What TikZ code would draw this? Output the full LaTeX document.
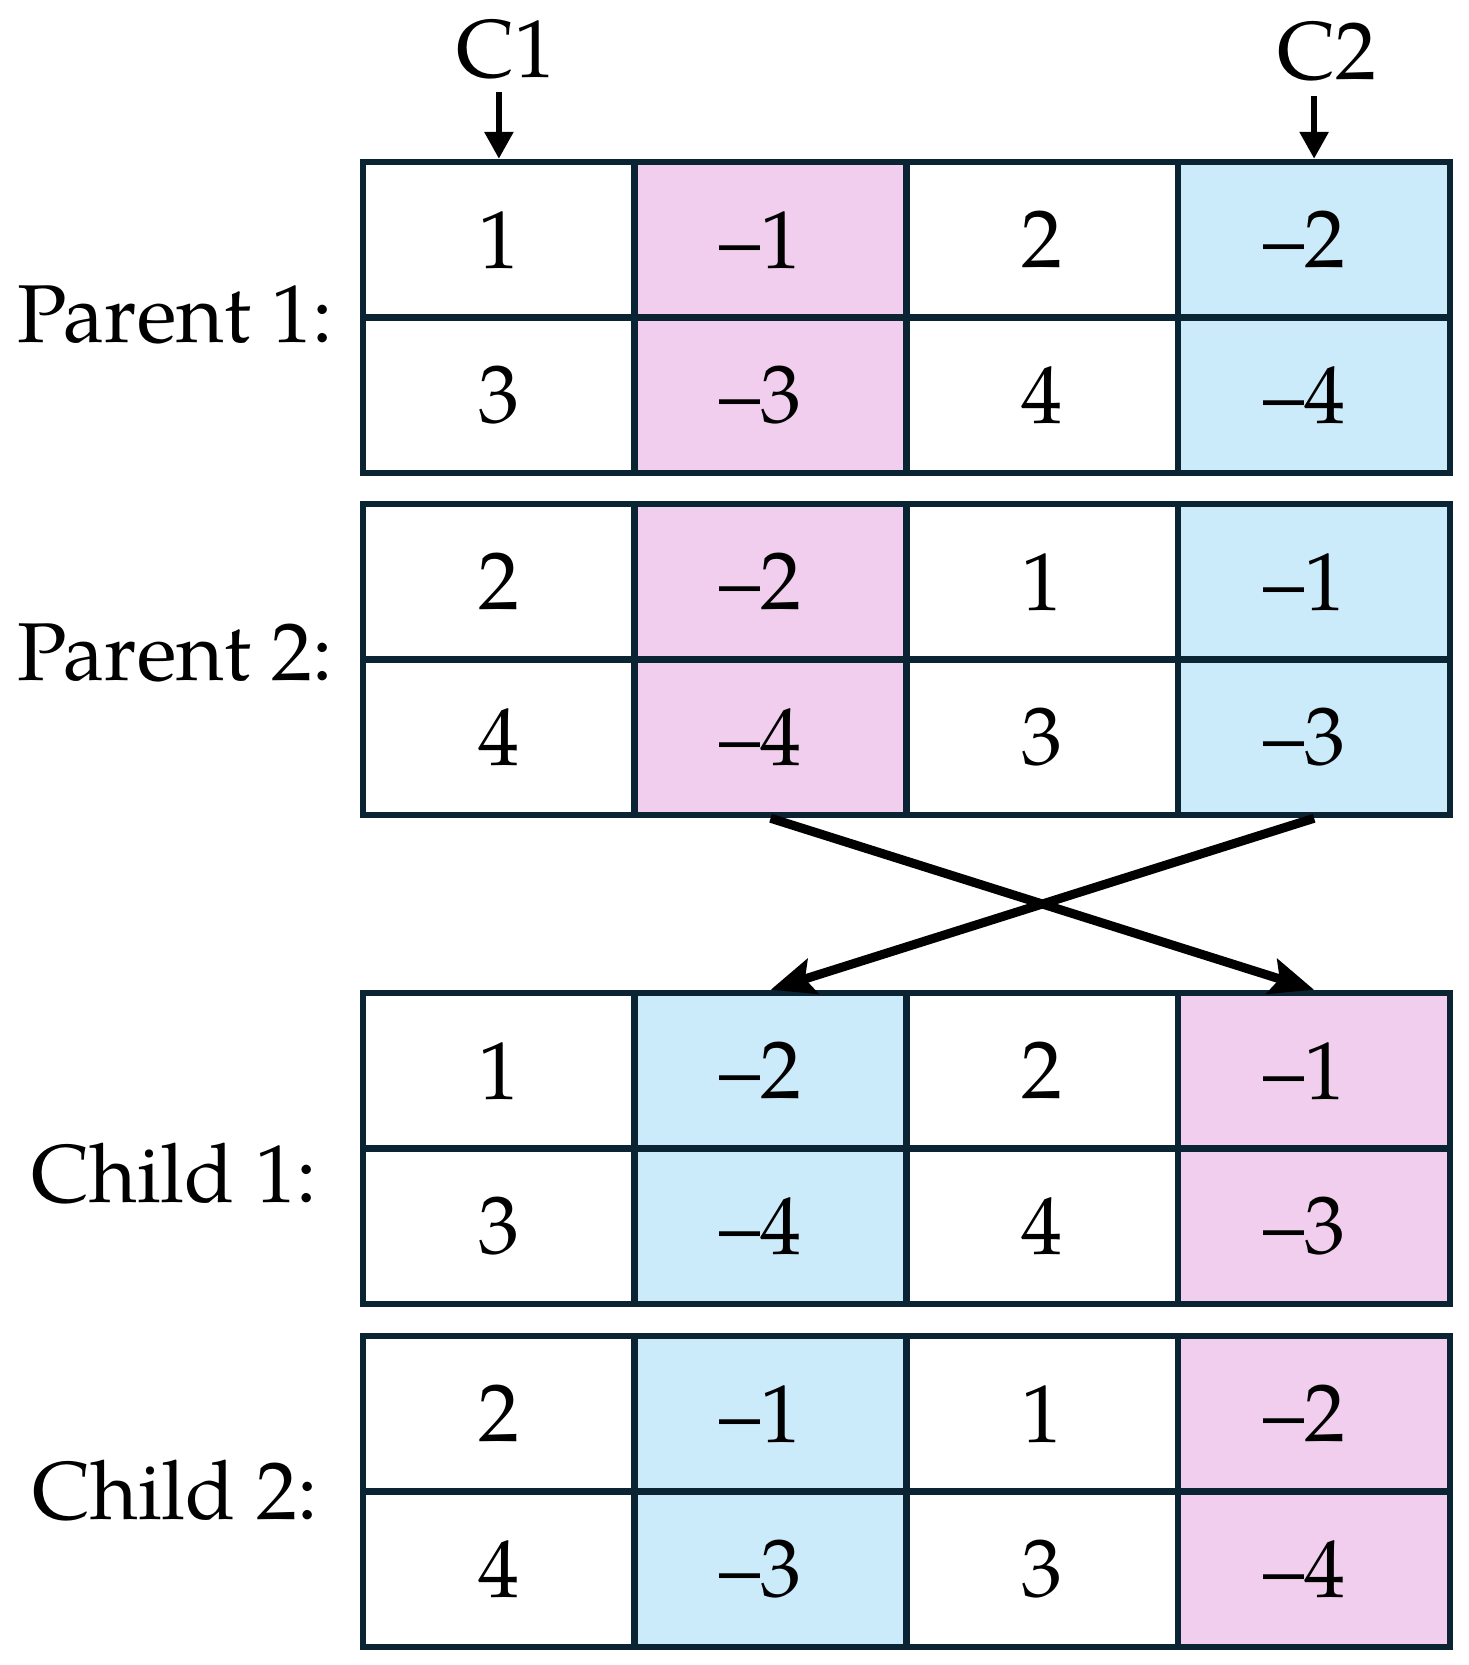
\documentclass[tikz,border=0pt]{standalone}
\usepackage{fontspec}
\setmainfont{TeX Gyre Pagella}
\usetikzlibrary{arrows.meta}
\definecolor{pinkc}{HTML}{F1CEEE}
\definecolor{bluec}{HTML}{CBEBFA}
\definecolor{border}{HTML}{0B2434}
\newcommand\gtrow[8]{%
  \node[cell] (#1-1) at (498.9,#2) {#5};
  \node[cell,fill=#3] (#1-2) at (770.6,#2) {\negv{#6}};
  \node[cell] (#1-3) at (1042.4,#2) {#7};
  \node[cell,fill=#4] (#1-4) at (1314.1,#2) {\negv{#8}};}
\newcommand\negv[1]{\textendash#1\hspace*{10pt}}
\begin{document}
\begin{tikzpicture}[x=0.5pt,y=-0.5pt,
  cell/.style={draw=border,line width=3.25pt,minimum width=135.875pt,minimum height=77.75pt,inner sep=0pt,font=\fontsize{41}{49}\selectfont},
  lbl/.style={anchor=base west,inner sep=0pt,font=\fontsize{41}{49}\selectfont},
  sarrow/.style={line width=3pt,-{Triangle[length=13.5pt,width=14pt]}},
  xarrow/.style={line width=4.5pt,-{Stealth[length=22pt,width=18pt,inset=4pt]}}]
\useasboundingbox (0,0) rectangle (1468,1665);
% Parent 1
\gtrow{p1a}{239.75}{pinkc}{bluec}{1}{1}{2}{2}
\gtrow{p1b}{395.25}{pinkc}{bluec}{3}{3}{4}{4}
% Parent 2
\gtrow{p2a}{581.75}{pinkc}{bluec}{2}{2}{1}{1}
\gtrow{p2b}{737.25}{pinkc}{bluec}{4}{4}{3}{3}
% Child 1
\gtrow{c1a}{1070.75}{bluec}{pinkc}{1}{2}{2}{1}
\gtrow{c1b}{1226.25}{bluec}{pinkc}{3}{4}{4}{3}
% Child 2
\gtrow{c2a}{1413.75}{bluec}{pinkc}{2}{1}{1}{2}
\gtrow{c2b}{1569.25}{bluec}{pinkc}{4}{3}{3}{4}
% labels
\node[lbl] (lp1) at (17,342) {Parent 1:};
\node[lbl] (lp2) at (17,680) {Parent 2:};
\node[lbl] (lc1) at (31,1202) {Child 1:};
\node[lbl] (lc2) at (32,1519) {Child 2:};
\node[lbl,anchor=base] (cut1) at (506,77) {C1};
\node[lbl,anchor=base] (cut2) at (1327,79) {C2};
% cut arrows
\draw[sarrow,shorten <=6.5pt] (cut1.south -| p1a-1.north) -- (p1a-1.north);
\draw[sarrow,shorten <=7.5pt] (cut2.south -| p1a-4.north) -- (p1a-4.north);
% crossover arrows
\draw[xarrow] (p2b-2.south) -- (c1a-4.north);
\draw[xarrow] (p2b-4.south) -- (c1a-2.north);
\end{tikzpicture}
\end{document}
